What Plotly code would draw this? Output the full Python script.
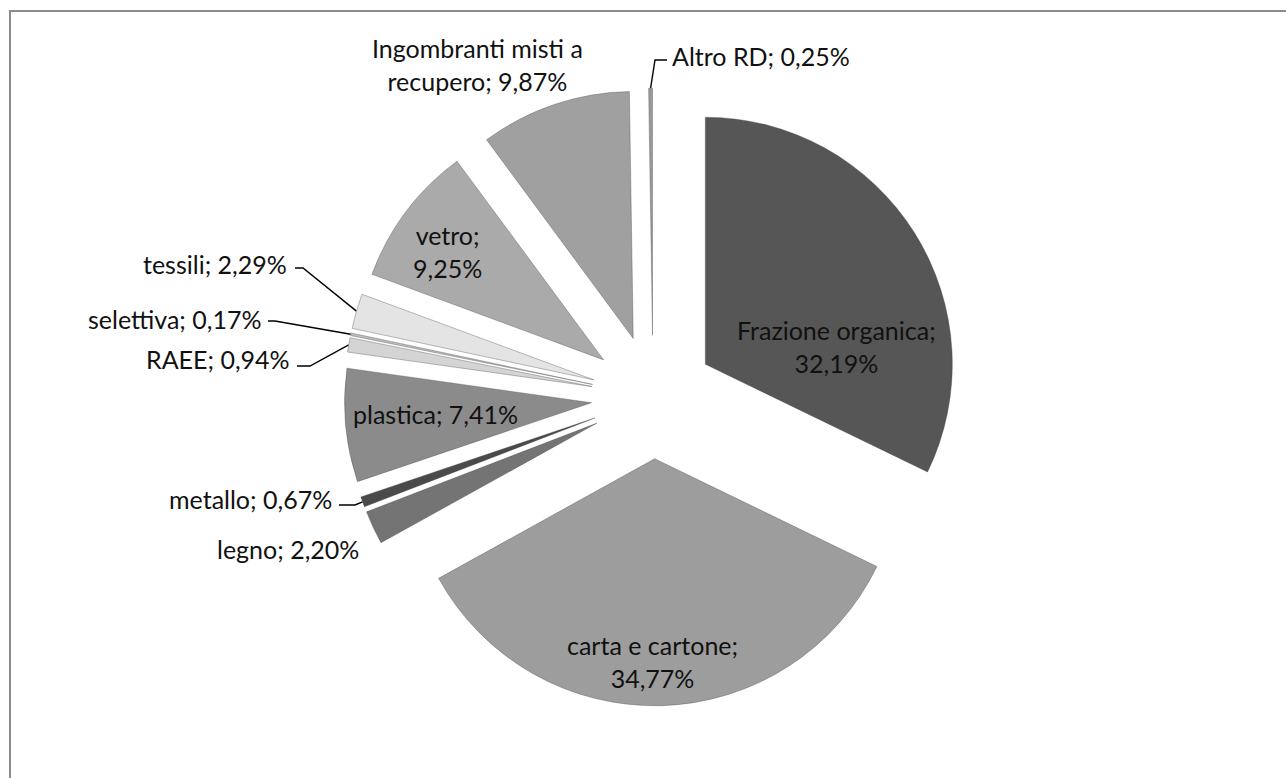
import math
import plotly.graph_objects as go

# ---------------- data ----------------
categories = ["Frazione organica", "carta e cartone", "legno", "metallo", "plastica",
              "RAEE", "selettiva", "tessili", "vetro",
              "Ingombranti misti a recupero", "Altro RD"]
values = [32.19, 34.77, 2.20, 0.67, 7.41, 0.94, 0.17, 2.29, 9.25, 9.87, 0.25]

# ---------------- styles / layout ----------------
colors = ["#565656", "#9d9d9d", "#747474", "#4a4a4a", "#8b8b8b",
          "#d4d4d4", "#bdbdbd", "#e4e4e4", "#aaaaaa", "#a0a0a0", "#9a9a9a"]

W, H = 1286, 778
CX, CY = 653, 397          # pie centre (px)
R = 247                    # slice radius (px)
PULL = 0.25                # explosion (fraction of radius)
FONT = "Lato"
FSIZE = 25

# label placement (px), words on first line, leader elbow points
label_style = {
    "Frazione organica": dict(x=836, y=346, xanchor="center", first=2),
    "carta e cartone": dict(x=652, y=661, xanchor="center", first=3),
    "legno": dict(x=361, y=549, xanchor="right"),
    "metallo": dict(x=334, y=499, xanchor="right", leader=[(355, 505), (339, 505)]),
    "plastica": dict(x=435, y=414, xanchor="center"),
    "RAEE": dict(x=292, y=359, xanchor="right", leader=[(310, 366), (297, 366)]),
    "selettiva": dict(x=264, y=319, xanchor="right", leader=[(275, 321), (268, 321)]),
    "tessili": dict(x=289, y=264, xanchor="right", leader=[(303, 268), (295, 268)]),
    "vetro": dict(x=447, y=251, xanchor="center", first=1),
    "Ingombranti misti a recupero": dict(x=477, y=64, xanchor="center", first=3),
    "Altro RD": dict(x=670, y=56, xanchor="left", leader=[(655, 60), (667, 60)]),
}


def fmt(v):
    return f"{v:.2f}%".replace(".", ",")


half = R * (1 + PULL)
dom_x = [(CX - half) / W, (CX + half) / W]
dom_y = [1 - (CY + half) / H, 1 - (CY - half) / H]

fig = go.Figure()

fig.add_trace(go.Pie(
    labels=categories,
    values=values,
    sort=False,
    direction="clockwise",
    rotation=0,
    pull=[PULL] * len(values),
    marker=dict(colors=colors, line=dict(color="rgba(70,70,70,0.45)", width=0.8)),
    textinfo="none",
    hoverinfo="label+percent",
    showlegend=False,
    domain=dict(x=dom_x, y=dom_y),
))

total = sum(values)
cum = 0.0
annotations = []
for name, v in zip(categories, values):
    mid = (cum + v / 2) / total * 2 * math.pi
    cum += v
    st = label_style[name]
    words = f"{name}; {fmt(v)}".split(" ")
    k = st.get("first")
    text = " ".join(words) if not k else " ".join(words[:k]) + "<br>" + " ".join(words[k:])
    annotations.append(dict(
        x=st["x"], y=st["y"], xref="x", yref="y", text=text, showarrow=False,
        xanchor=st["xanchor"], yanchor="middle", align="center",
        font=dict(family=FONT, size=FSIZE, color="#111111"),
    ))
    if "leader" in st:
        sx = CX + R * (1 + PULL) * math.sin(mid)
        sy = CY - R * (1 + PULL) * math.cos(mid)
        pts = [(sx, sy)] + st["leader"]
        fig.add_trace(go.Scatter(
            x=[p[0] for p in pts], y=[p[1] for p in pts], mode="lines",
            line=dict(color="#000000", width=1.4), hoverinfo="skip", showlegend=False,
        ))

fig.update_layout(
    width=W, height=H,
    margin=dict(l=0, r=0, t=0, b=0),
    paper_bgcolor="white", plot_bgcolor="white",
    xaxis=dict(range=[0, W], visible=False, fixedrange=True, domain=[0, 1]),
    yaxis=dict(range=[H, 0], visible=False, fixedrange=True, domain=[0, 1]),
    annotations=annotations,
    shapes=[dict(type="rect", xref="x", yref="y", x0=10, y0=11, x1=W + 40, y1=H + 40,
                 line=dict(color="#8c8c8c", width=2), layer="below")],
)

fig.write_html("out.html", config={"displayModeBar": False},
               post_script="document.body.style.margin='0';document.body.style.overflow='hidden';")
